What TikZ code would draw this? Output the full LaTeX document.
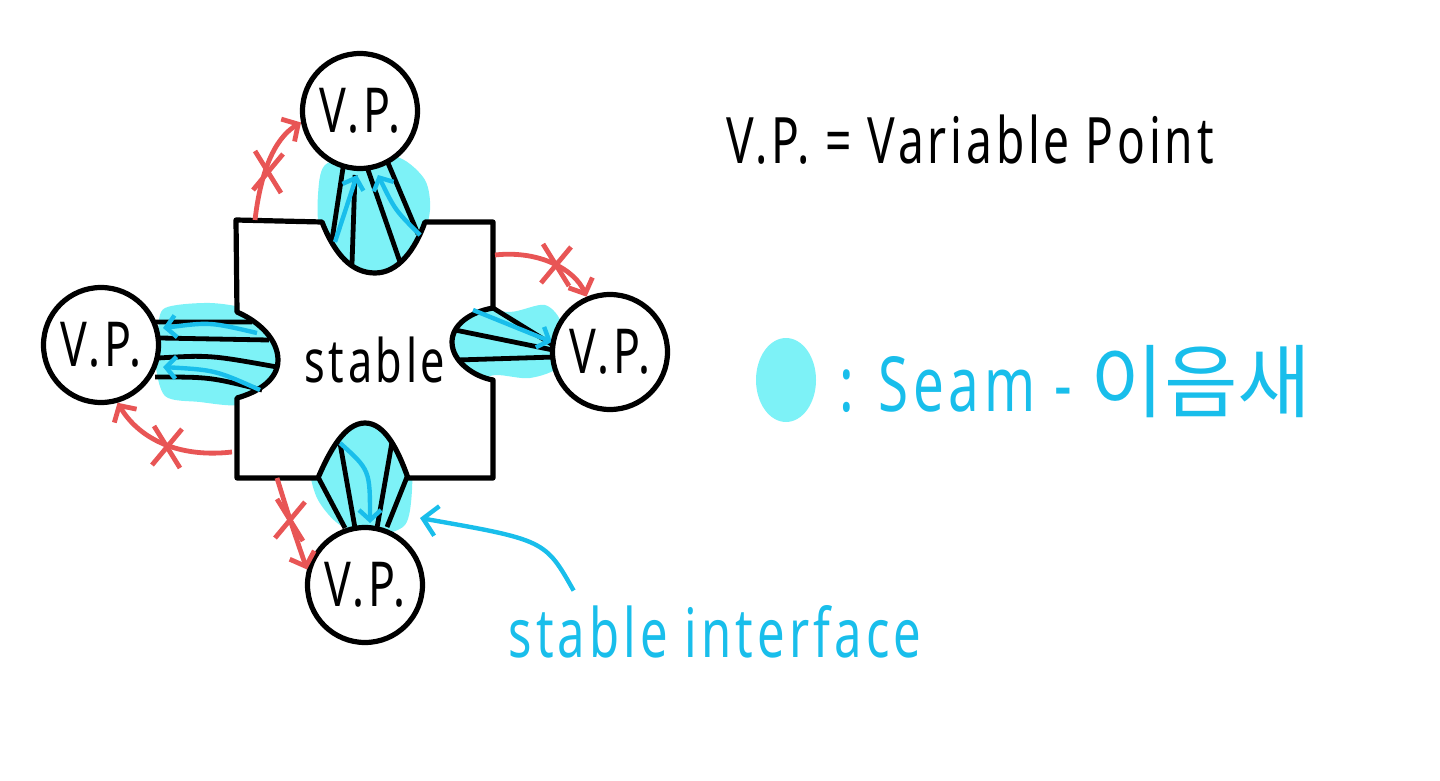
\documentclass[tikz,border=0pt]{standalone}
\usepackage{fontspec}
\usepackage{xcolor}
\usetikzlibrary{arrows.meta}
\newfontfamily\hand[FakeStretch=0.72,LetterSpace=6]{Noto Sans}
\newfontfamily\krfont{Noto Sans CJK KR}
\definecolor{seamfill}{RGB}{125,242,247}
\definecolor{seamblue}{RGB}{25,190,235}
\definecolor{myred}{RGB}{232,85,85}
\tikzset{
  vp/.style={circle,draw,line width=2.6pt,fill=white,minimum size=57.5pt,inner sep=0pt,font=\hand\fontsize{31}{34}\selectfont},
  seam/.style={fill=seamfill},
  hatch/.style={line width=2.4pt},
  flow/.style={seamblue,line width=2.2pt,-{Straight Barb[length=5pt,width=11pt]}},
  jump/.style={myred,line width=2.4pt,-{Straight Barb[length=6pt,width=13pt]}},
  xmark/.pic={\draw[myred,line width=2.4pt] (-13,-21) -- (13,21) (15,-18) -- (-15,18);}
}
\begin{document}
\begin{tikzpicture}[x=0.5pt,y=-0.5pt]
        \useasboundingbox (0,0) rectangle (1440,781);
        % seams
        \fill[seam] plot[smooth cycle] coordinates {(325,165) (360,155) (400,158) (425,180) (430,210) (420,245) (395,270) (370,276) (340,262) (320,232) (318,195)};
        \fill[seam] plot[smooth cycle] coordinates {(165,308) (210,303) (250,310) (275,330) (283,360) (270,390) (240,405) (200,402) (165,396) (155,360) (158,330)};
        \fill[seam] plot[smooth cycle] coordinates {(465,308) (510,312) (545,305) (562,325) (560,365) (530,378) (495,375) (465,382) (450,345)};
        \fill[seam] plot[smooth cycle] coordinates {(335,430) (365,420) (395,425) (410,445) (412,490) (405,525) (375,535) (340,525) (318,500) (310,470) (318,445)};
        % stable box
        \draw[line width=2.6pt,fill=white,line join=round] (236,220) -- (322,222) .. controls (335,255) and (352,273) .. (375,273) .. controls (398,273) and (415,250) .. (425,222) -- (493,222) -- (493,308) .. controls (470,312) and (452,325) .. (452,342) .. controls (452,362) and (475,377) .. (493,380) -- (493,478) -- (408,478) .. controls (398,450) and (385,423) .. (365,423) .. controls (345,423) and (330,450) .. (318,478) -- (237,478) -- (237,398) .. controls (258,392) and (278,380) .. (278,360) .. controls (278,340) and (260,322) .. (237,312) -- cycle;
        \node[font=\hand\fontsize{30}{34}\selectfont] (stab) at (375,360) {stable};
        % hatching
        \draw[hatch] (343,168) -- (332,240) (355,175) -- (352,264) (367,167) -- (400,262) (388,163) -- (418,234);
        \draw[hatch] (155,322) -- (252,322) (160,338) -- (269,340) (158,358) .. controls (210,355) .. (277,367) (155,377) .. controls (210,377) .. (262,390);
        \draw[hatch] (493,308) -- (553,345) (455,330) -- (553,350) (457,360) -- (555,357);
        \draw[hatch] (318,477) -- (345,528) (340,443) -- (355,528) (392,442) -- (377,528) (407,477) -- (387,527);
        \draw[flow] (335,242) -- (357,175);
        \draw[flow] (420,235) .. controls (395,210) .. (378,175);
        \draw[flow] (257,333) .. controls (210,322) .. (163,328);
        \draw[flow] (260,390) .. controls (215,370) .. (163,367);
        \draw[flow] (473,310) .. controls (510,325) .. (552,342);
        \draw[flow] (340,443) .. controls (370,470) .. (370,523);
        % variable points
        \node[vp] (vpT) at (360,111) {V.P.};
        \node[vp] (vpL) at (101,345) {V.P.};
        \node[vp] (vpR) at (610,352) {V.P.};
        \node[vp] (vpB) at (365,585) {V.P.};
        % forbidden jumps
        \coordinate (boxT) at (255,220);
        \coordinate (boxR) at (495,255);
        \coordinate (boxL) at (232,452);
        \coordinate (boxB) at (277,478);
        \draw[jump] (boxT) .. controls (262,160) and (280,135) .. (vpT.191);
        \draw[jump] (boxR) .. controls (540,250) and (575,270) .. (vpR.113);
        \draw[jump] (boxL) .. controls (180,458) and (140,440) .. (vpL.286);
        \draw[jump] (boxB) .. controls (290,520) .. (vpB.165);
        \pic at (268,172) {xmark};
        \pic at (556,265) {xmark};
        \pic at (167,447) {xmark};
        \pic at (290,520) {xmark};
        % legend
        \node[font=\hand\fontsize{32}{36}\selectfont] (defn) at (970,140) {V.P. = Variable Point};
        \fill[seamfill] (786,380) ellipse [x radius=30, y radius=42];
        \node[anchor=west,seamblue,font=\hand\fontsize{38}{42}\selectfont] (seamkey) at (832,382) {: Seam - {\krfont\fontsize{40}{44}\selectfont 이음새}};
        \node[seamblue,font=\hand\fontsize{34}{38}\selectfont] (iface) at (715,632) {stable interface};
        \coordinate (ifaceEnd) at (420,518);
        \draw[flow,-{Straight Barb[length=7pt,width=15pt]}] (iface.north west) ++(72,-8) .. controls (545,540) .. (ifaceEnd);
    \end{tikzpicture}
\end{document}
